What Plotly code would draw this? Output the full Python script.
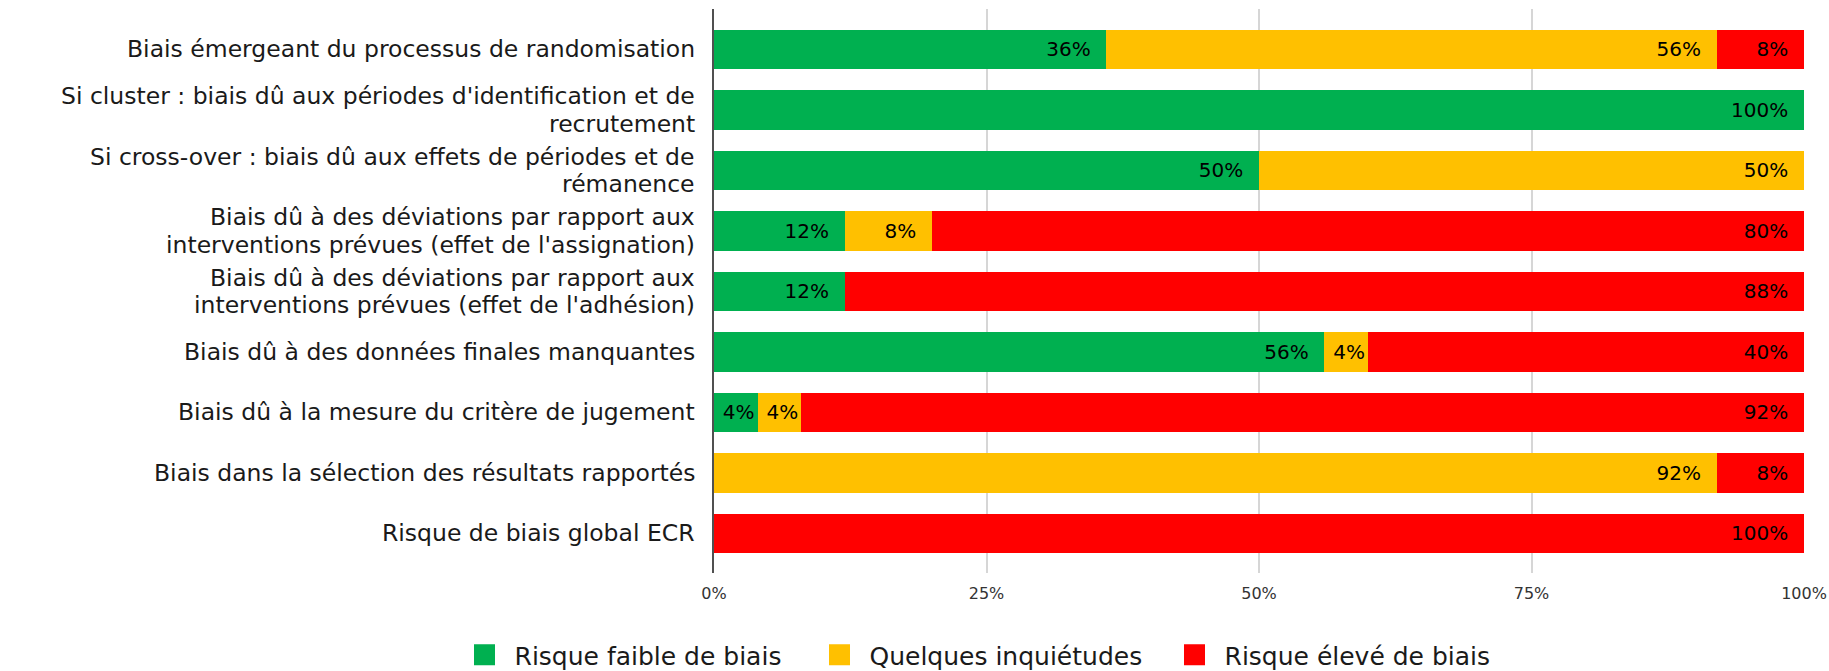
import plotly.graph_objects as go

categories = [
    "Biais émergeant du processus de randomisation",
    "Si cluster : biais dû aux périodes d'identification et de<br>recrutement",
    "Si cross-over : biais dû aux effets de périodes et de<br>rémanence",
    "Biais dû à des déviations par rapport aux<br>interventions prévues (effet de l'assignation)",
    "Biais dû à des déviations par rapport aux<br>interventions prévues (effet de l'adhésion)",
    "Biais dû à des données finales manquantes",
    "Biais dû à la mesure du critère de jugement",
    "Biais dans la sélection des résultats rapportés",
    "Risque de biais global ECR",
]
low_risk = [36, 100, 50, 12, 12, 56, 4, 0, 0]
some_concerns = [56, 0, 50, 8, 0, 4, 4, 92, 0]
high_risk = [8, 0, 0, 80, 88, 40, 92, 8, 100]

series_names = ["Risque faible de biais", "Quelques inquiétudes", "Risque élevé de biais"]
series_values = [low_risk, some_concerns, high_risk]
colors = ["#00B050", "#FFC000", "#FF0000"]
tick_vals = [0, 25, 50, 75, 100]
tick_text = ["0%", "25%", "50%", "75%", "100%"]

FONT = "DejaVu Sans"
LABEL_SIZE = 23.5
LINE_PITCH = 27.5
TEXT_COLOR = "#1a1a1a"

fig = go.Figure()
for name, vals, col in zip(series_names, series_values, colors):
    fig.add_trace(go.Bar(
        y=categories, x=vals, orientation="h", name=name,
        marker=dict(color=col, line=dict(width=0),
                    cornerradius=4 if col == "#FF0000" else 0),
        text=[(f"{v}%" + ("\u2007" if v >= 8 else "")) if v else "" for v in vals],
        textposition="inside", insidetextanchor="end",
        textfont=dict(family=FONT, size=20, color="black"),
        constraintext="none",
        showlegend=False, hoverinfo="skip",
    ))
    fig.add_trace(go.Scatter(
        x=[None], y=[None], mode="markers", name=name,
        marker=dict(symbol="square", size=16, color=col, line=dict(color=col, width=5)),
        showlegend=True, hoverinfo="skip",
    ))

# category labels, one annotation per line for tight line spacing
annotations = []
for cat in categories:
    lines = cat.split("<br>")
    n = len(lines)
    for j, line in enumerate(lines):
        offset = (j - (n - 1) / 2) * LINE_PITCH
        annotations.append(dict(
            xref="paper", yref="y", x=0, y=cat, text=line,
            xanchor="right", yanchor="middle", xshift=-17, yshift=-offset,
            showarrow=False, font=dict(family=FONT, size=LABEL_SIZE, color=TEXT_COLOR),
        ))

fig.update_layout(
    barmode="stack", bargap=0.35,
    width=1829, height=671,
    margin=dict(l=714, r=25, t=9, b=98, autoexpand=False),
    plot_bgcolor="white", paper_bgcolor="white",
    font=dict(family=FONT, color=TEXT_COLOR),
    annotations=annotations,
    legend=dict(orientation="h", traceorder="normal",
                xref="container", x=0.2485, xanchor="left",
                yref="container", y=0.0238, yanchor="middle",
                font=dict(size=25, family=FONT, color=TEXT_COLOR),
                itemwidth=50, entrywidth=290, entrywidthmode="pixels"),
)
fig.update_xaxes(range=[0, 100], tickvals=tick_vals, ticktext=tick_text,
                 showgrid=True, gridcolor="#d6d6d6", gridwidth=1.5, zeroline=False,
                 ticks="outside", ticklen=6, tickcolor="rgba(0,0,0,0)", automargin=False,
                 tickfont=dict(size=16, family=FONT, color="#333"))
fig.update_yaxes(range=[8.653, -0.669], showline=True, linecolor="#505050", linewidth=2,
                 showticklabels=False, ticks="", automargin=False)

fig.write_html("out.html", config={"displayModeBar": False},
               post_script="document.body.style.margin='0';document.body.style.overflow='hidden';")
